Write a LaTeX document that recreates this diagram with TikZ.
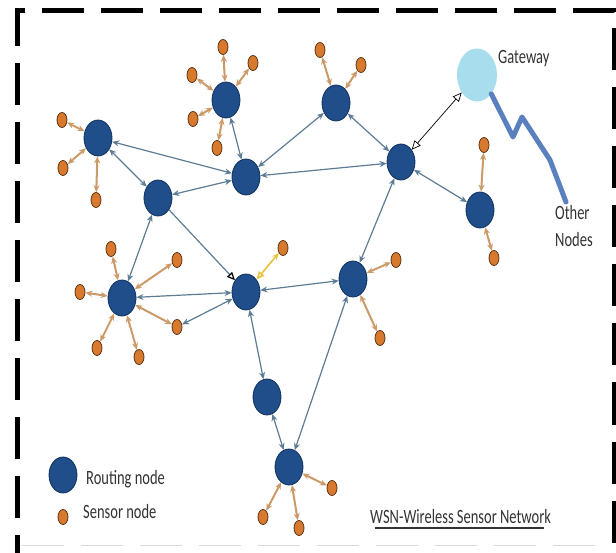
\documentclass[tikz,border=0pt]{standalone}
\usepackage{fontspec}
\setmainfont{Carlito}
\usetikzlibrary{arrows.meta,shapes.geometric}
\definecolor{routefill}{HTML}{1F4E8A}
\definecolor{routeedge}{HTML}{10305C}
\definecolor{sensorfill}{HTML}{D87A2E}
\definecolor{sensoredge}{HTML}{5A3214}
\definecolor{gatefill}{HTML}{A8DDED}
\definecolor{linkgray}{HTML}{5C7C95}
\definecolor{sensorlink}{HTML}{CC9A68}
\definecolor{yellowlink}{HTML}{E8C23E}
\definecolor{wireblue}{HTML}{5B80BF}
\definecolor{textgray}{HTML}{333333}
\newcommand{\tallText}[1]{\scalebox{1}[1.4]{#1}}

\begin{document}
\begin{tikzpicture}[x=1pt, y=-1pt,
    routing/.style={ellipse, draw=routeedge, fill=routefill, line width=0.8pt,
                    minimum width=28pt, minimum height=36pt, inner sep=0pt},
    sensor/.style={ellipse, draw=sensoredge, fill=sensorfill, line width=0.8pt,
                   minimum width=10pt, minimum height=15pt, inner sep=0pt},
    rlink/.style={{Stealth[length=7pt,width=6pt]}-{Stealth[length=7pt,width=6pt]},
                  draw=linkgray, line width=1.2pt},
    slink/.style={{Stealth[length=7pt,width=6pt]}-{Stealth[length=7pt,width=6pt]},
                  draw=sensorlink, line width=2pt},
    txt/.style={font=\fontsize{14.5}{17}\selectfont, text=textgray, inner sep=0pt, anchor=base west}
]
\useasboundingbox (0,0) rectangle (616,553);

% Dashed frame
\draw[line width=5pt, dash pattern=on 42pt off 17pt, dash phase=24pt]
    (17.5,553) -- (17.5,11) -- (614,11) -- (614,553);
\draw[black!15, line width=1pt, dash pattern=on 42pt off 17pt] (22,545) -- (610,545);

% Routing nodes
\node[routing] (RN1) at (98,138) {};
\node[routing] (RN2) at (226,100) {};
\node[routing] (RN3) at (158,198) {};
\node[routing] (RN4) at (246,177) {};
\node[routing] (RN5) at (336,103) {};
\node[routing] (RN6) at (401,162) {};
\node[routing] (RN7) at (480,210) {};
\node[routing] (RN8) at (122,298) {};
\node[routing] (RN9) at (246,292) {};
\node[routing] (RN10) at (353,279) {};
\node[routing] (RN11) at (267,397) {};
\node[routing] (RN12) at (289,467) {};

% Gateway and the line to the other nodes
\node[ellipse, fill=gatefill, minimum width=40pt, minimum height=53pt, inner sep=0pt] (GW) at (477,75) {};
\coordinate (W1) at (513,137);
\coordinate (W2) at (522,117);
\coordinate (W3) at (550,160);
\coordinate (WEnd) at (566,202);
\draw[wireblue, line width=5pt, line cap=round, line join=round] (GW.south east) -- (W1) -- (W2) -- (W3) -- (WEnd);

% Sensor nodes
\node[sensor] (SN1a) at (62,120) {};
\node[sensor] (SN1b) at (63,168) {};
\node[sensor] (SN1c) at (96,200) {};
\node[sensor] (SN2a) at (223,47) {};
\node[sensor] (SN2b) at (253,63) {};
\node[sensor] (SN2c) at (192,75) {};
\node[sensor] (SN2d) at (193,119) {};
\node[sensor] (SN2e) at (217,148) {};
\node[sensor] (SN5a) at (320,50) {};
\node[sensor] (SN5b) at (361,65) {};
\node[sensor] (SN7a) at (484,145) {};
\node[sensor] (SN7b) at (494,258) {};
\node[sensor] (SN8a) at (111,249) {};
\node[sensor] (SN8b) at (177,260) {};
\node[sensor] (SN8c) at (80,292) {};
\node[sensor] (SN8d) at (97,348) {};
\node[sensor] (SN8e) at (139,357) {};
\node[sensor] (SNx) at (177,327) {};
\node[sensor] (SN9a) at (283,248) {};
\node[sensor] (SN10a) at (396,260) {};
\node[sensor] (SN10b) at (380,338) {};
\node[sensor] (SN12a) at (332,488) {};
\node[sensor] (SN12b) at (263,517) {};
\node[sensor] (SN12c) at (299,528) {};

% Links between routing nodes
\draw[rlink] (RN1) -- (RN3);
\draw[rlink] (RN1) -- (RN4);
\draw[rlink] (RN2) -- (RN4);
\draw[rlink] (RN3) -- (RN4);
\draw[rlink] (RN4) -- (RN5);
\draw[rlink] (RN4) -- (RN6);
\draw[rlink] (RN5) -- (RN6);
\draw[rlink] (RN6) -- (RN7);
\draw[rlink] (RN6) -- (RN10);
\draw[rlink] (RN3) -- (RN8);
\draw[rlink] (RN8) -- (RN9);
\draw[rlink] (RN9) -- (RN10);
\draw[rlink] (RN9) -- (RN11);
\draw[rlink] (RN11) -- (RN12);
\draw[rlink] (RN10) -- (RN12);
\draw[rlink] (RN9) -- (SNx);
% RN3 to RN9 ends in an open black head
\draw[rlink, -{Triangle[open, length=8pt, width=7pt, color=black]}] (RN3) -- (RN9);
% Gateway link
\draw[black, line width=0.7pt, {Triangle[open, length=9pt, width=8pt]}-{Triangle[open, length=9pt, width=8pt]}] (RN6) -- (GW);

% Links to sensor nodes
\draw[slink] (RN1) -- (SN1a);
\draw[slink] (RN1) -- (SN1b);
\draw[slink] (RN1) -- (SN1c);
\draw[slink] (RN2) -- (SN2a);
\draw[slink] (RN2) -- (SN2b);
\draw[slink] (RN2) -- (SN2c);
\draw[slink] (RN2) -- (SN2d);
\draw[slink] (RN2) -- (SN2e);
\draw[slink] (RN5) -- (SN5a);
\draw[slink] (RN5) -- (SN5b);
\draw[slink] (RN7) -- (SN7a);
\draw[slink] (RN7) -- (SN7b);
\draw[slink] (RN8) -- (SN8a);
\draw[slink] (RN8) -- (SN8b);
\draw[slink] (RN8) -- (SN8c);
\draw[slink] (RN8) -- (SN8d);
\draw[slink] (RN8) -- (SN8e);
\draw[slink] (RN8) -- (SNx);
\draw[slink] (RN10) -- (SN10a);
\draw[slink] (RN10) -- (SN10b);
\draw[slink] (RN12) -- (SN12a);
\draw[slink] (RN12) -- (SN12b);
\draw[slink] (RN12) -- (SN12c);
\draw[yellowlink, line width=1.6pt, {Triangle[open, length=8pt, width=7pt]}-{Stealth[length=7pt,width=6pt]}] (RN9) -- (SN9a);

% Texts
\node[txt] (GWText) at (498,64) {\tallText{Gateway}};
\node[txt] (OtherA) at (555,220) {\tallText{Other}};
\node[txt] (OtherB) at (555,247) {\tallText{Nodes}};

% Legend
\node[routing] (LegR) at (63,475) {};
\node[sensor] (LegS) at (63,517) {};
\node[txt] (LegRText) at (86,484) {\tallText{Routing node}};
\node[txt] (LegSText) at (83,518) {\tallText{Sensor node}};

% Title
\node[txt] (WSN) at (370,523) {\tallText{WSN-Wireless Sensor Network}};
\draw[textgray, line width=1.2pt] ([shift={(5,5)}]WSN.base west) -- ([shift={(-7,5)}]WSN.base east);
\end{tikzpicture}
\end{document}
